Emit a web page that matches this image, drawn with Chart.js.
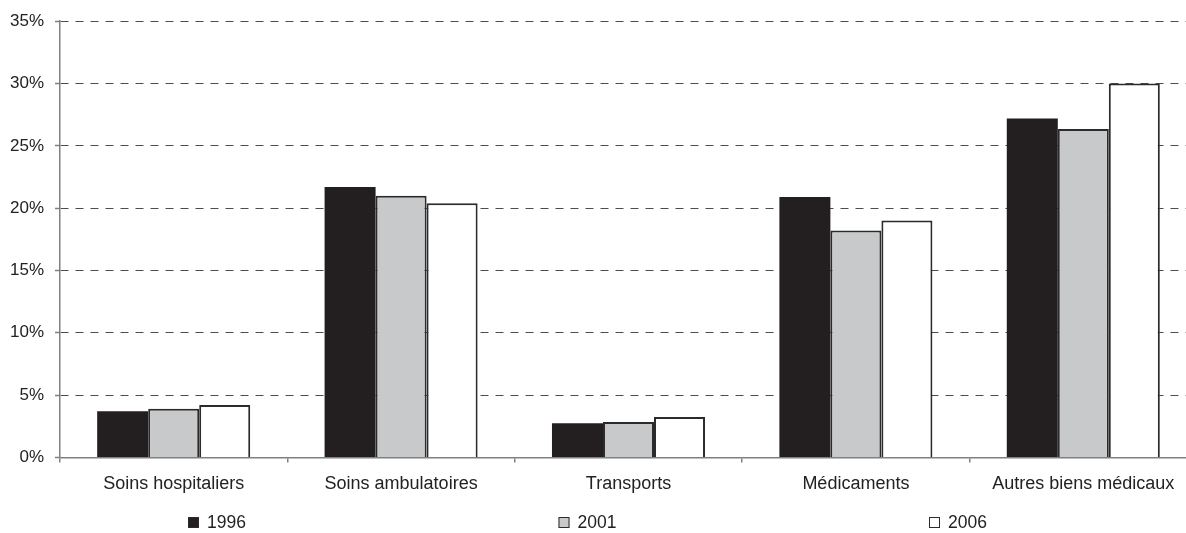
<!DOCTYPE html>
<html lang="fr">
<head>
<meta charset="utf-8">
<title>Structure des dépenses</title>
<script src="https://cdn.jsdelivr.net/npm/chart.js@4.4.1/dist/chart.umd.min.js"></script>
<style>
    html, body {
        margin: 0;
        padding: 0;
        background: #ffffff;
        overflow: hidden;
    }
    #wrap {
        position: relative;
        width: 1200px;
        height: 533px;
    }
</style>
</head>
<body>
<div id="wrap">
    <canvas id="chart"></canvas>
</div>
<script>
// Catégories et parts (en %) pour chaque année
const categories = ['Soins hospitaliers', 'Soins ambulatoires', 'Transports', 'Médicaments', 'Autres biens médicaux'];
const years = ['1996', '2001', '2006'];
const values1996 = [3.7, 21.7, 2.75, 20.9, 27.2];
const values2001 = [3.9, 21.0, 2.85, 18.2, 26.35];
const values2006 = [4.2, 20.4, 3.25, 19.0, 30.0];
const yTicks = [0, 5, 10, 15, 20, 25, 30, 35];

const fills = ['#231f20', '#c8c9ca', '#ffffff'];
const edge = '#2b2b2b';
const textColor = '#222222';
const fontFamily = '"Liberation Sans", Arial, Helvetica, sans-serif';

/**
 * Légende répartie sur toute la largeur sous le graphique
 */
const spreadLegend = {
    id: 'spreadLegend',
    afterDraw(chart) {
        const ctx = chart.ctx;
        const startX = 188;
        const step = 370.5;
        const y = 523;
        ctx.save();
        ctx.font = '17.5px ' + fontFamily;
        ctx.textBaseline = 'middle';
        chart.data.datasets.forEach(function(ds, i) {
            const x = startX + i * step;
            ctx.fillStyle = ds.backgroundColor;
            ctx.fillRect(x, y - 6, 11, 11);
            ctx.strokeStyle = edge;
            ctx.lineWidth = 1;
            ctx.strokeRect(x + 0.5, y - 5.5, 10, 10);
            ctx.fillStyle = textColor;
            ctx.fillText(ds.label, x + 19, y);
        });
        ctx.restore();
    }
};

const datasets = [values1996, values2001, values2006].map(function(vals, i) {
    return {
        label: years[i],
        data: vals,
        backgroundColor: fills[i],
        borderColor: edge,
        borderWidth: i === 0 ? 0 : 2,
        borderSkipped: 'bottom',
        categoryPercentage: 0.673,
        barPercentage: 1.0
    };
});

new Chart(document.getElementById('chart'), {
    type: 'bar',
    data: {
        labels: categories,
        datasets: datasets
    },
    options: {
        responsive: true,
        maintainAspectRatio: false,
        animation: false,
        layout: {
            padding: { top: 19, right: 3, bottom: 27, left: 0 }
        },
        plugins: {
            legend: { display: false },
            tooltip: { enabled: false }
        },
        scales: {
            x: {
                grid: {
                    offset: true,
                    drawOnChartArea: false,
                    tickLength: 5,
                    color: '#808080',
                    lineWidth: 1.5
                },
                border: { display: true, color: '#808080', width: 1.5 },
                ticks: {
                    color: textColor,
                    padding: 11,
                    maxRotation: 0,
                    font: { family: fontFamily, size: 18 }
                }
            },
            y: {
                min: 0,
                max: 35,
                afterFit: function(scale) {
                    scale.width = 60;
                },
                afterBuildTicks: function(scale) {
                    scale.ticks = yTicks.map(function(v) { return { value: v }; });
                },
                grid: {
                    color: function(c) {
                        return c.tick && c.tick.value === 0 ? 'rgba(0,0,0,0)' : '#4d4d4d';
                    },
                    lineWidth: 1,
                    tickLength: 5,
                    tickColor: '#808080',
                    tickWidth: 1.5
                },
                border: { display: true, color: '#808080', width: 1.5, dash: [8, 7] },
                ticks: {
                    color: textColor,
                    padding: 11,
                    font: { family: fontFamily, size: 17 },
                    callback: function(value) {
                        return value + '%';
                    }
                }
            }
        }
    },
    plugins: [spreadLegend]
});
</script>
</body>
</html>
